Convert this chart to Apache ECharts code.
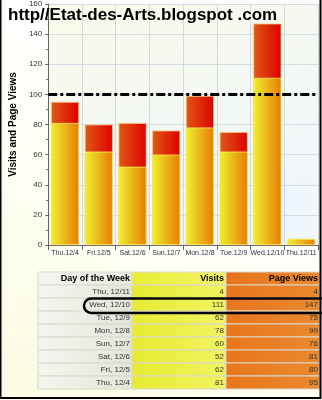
<!DOCTYPE html>
<html><head><meta charset="utf-8">
<script src="https://cdn.jsdelivr.net/npm/echarts@6/dist/echarts.min.js"></script>
<style>html,body{margin:0;padding:0;background:#fff}#c{width:322px;height:400px}</style>
</head><body><div id="c"></div>
<script>
var categories = ['Thu.12/4','Fri.12/5','Sat.12/6','Sun.12/7','Mon.12/8','Tue.12/9','Wed.12/10','Thu.12/11'];
var visits = [81, 62, 52, 60, 78, 62, 111, 4];
var pageViews = [95, 80, 81, 76, 99, 75, 147, 4];
var yTicks = [0, 20, 40, 60, 80, 100, 120, 140, 160];
var refLine = 100;
var tableHeaders = ['Day of the Week', 'Visits', 'Page Views'];
var tableDays = ['Thu, 12/11','Wed, 12/10','Tue, 12/9','Mon, 12/8','Sun, 12/7','Sat, 12/6','Fri, 12/5','Thu, 12/4'];
var tableVisits = visits.slice().reverse();
var tablePageViews = pageViews.slice().reverse();

var cells = [];
tableHeaders.forEach(function (h, c) { cells.push([c, 0, h, 1]); });
tableDays.forEach(function (d, i) {
  cells.push([0, i + 1, d, 0]);
  cells.push([1, i + 1, String(tableVisits[i]), 0]);
  cells.push([2, i + 1, String(tablePageViews[i]), 0]);
});

function lin(a, b) {
  return { type: 'linear', x: 0, y: 0, x2: 1, y2: 0, colorStops: [{ offset: 0, color: a }, { offset: 1, color: b }] };
}
var colFill = [
  [lin('#f6f6f0', '#e4e4da'), lin('#f6f6f0', '#e8e8e0')],
  [lin('#e6ec30', '#f2f462'), lin('#e8ee36', '#f4f46a')],
  [lin('#e8761c', '#ea8a30'), lin('#e6721a', '#ec8c34')]
];

var chart = echarts.init(document.getElementById('c'), null, { renderer: 'canvas' });
chart.setOption({
  animation: false,
  backgroundColor: { type: 'linear', x: 0, y: 1, x2: 0.6, y2: 0.3, colorStops: [{ offset: 0, color: '#fcfce2' }, { offset: 1, color: '#ffffff' }] },
  title: {
    text: 'http//Etat-des-Arts.blogspot .com', left: 3, top: 2,
    textStyle: { fontFamily: 'Liberation Sans, Arial', fontWeight: 'bold', fontSize: 17, color: '#000' }
  },
  grid: [
    { left: 40, top: 4, width: 278, height: 241, show: true, borderWidth: 0,
      backgroundColor: { type: 'linear', x: 0, y: 0, x2: 0.3, y2: 1, colorStops: [{ offset: 0, color: '#fafaea' }, { offset: 1, color: '#f0f7fc' }] } },
    { left: 38, top: 272, width: 282, height: 117 }
  ],
  xAxis: [
    { type: 'category', gridIndex: 0, data: categories,
      axisLine: { show: true, lineStyle: { color: '#666', width: 1 } },
      axisTick: { show: true, lineStyle: { color: '#666' } },
      splitLine: { show: true, lineStyle: { color: '#d4d8d8', width: 1 } },
      axisLabel: { interval: 0, fontSize: 7, color: '#2a3050', margin: 5, fontFamily: 'Liberation Sans, Arial' } },
    { type: 'category', gridIndex: 1, data: [0, 1, 2], show: false }
  ],
  yAxis: [
    { type: 'value', gridIndex: 0, min: 0, max: 160, interval: 20,
      name: 'Visits and Page Views', nameLocation: 'middle', nameGap: 26,
      nameTextStyle: { fontSize: 10, fontWeight: 'bold', color: '#000', fontFamily: 'Liberation Sans, Arial' },
      axisLine: { show: true, lineStyle: { color: '#666' } },
      axisTick: { show: true, length: 3, lineStyle: { color: '#666' } },
      minorTick: { show: true, splitNumber: 2, length: 2, lineStyle: { color: '#666' } },
      splitLine: { show: true, lineStyle: { color: '#d4dde6' } },
      axisLabel: { fontSize: 8, color: '#333', margin: 6, fontFamily: 'Liberation Sans, Arial',
        formatter: function (v) { return yTicks.indexOf(v) >= 0 ? String(v) : ''; } } },
    { type: 'category', gridIndex: 1, data: [0,1,2,3,4,5,6,7,8], inverse: true, show: false }
  ],
  series: [
    { type: 'bar', name: 'Page Views', xAxisIndex: 0, yAxisIndex: 0, data: pageViews,
      barCategoryGap: '17%', barGap: '-100%',
      itemStyle: { color: lin('#dc5a14', '#e00000'), borderColor: '#f6c080', borderWidth: 0.8 },
      markLine: { silent: true, symbol: 'none', label: { show: false },
        lineStyle: { color: '#000', width: 3, type: [9, 3, 3, 3] },
        data: [{ yAxis: refLine }] } },
    { type: 'bar', name: 'Visits', xAxisIndex: 0, yAxisIndex: 0, data: visits,
      barCategoryGap: '17%', barGap: '-100%', z: 3,
      itemStyle: { color: lin('#eef030', '#e87c00'), borderColor: '#f8f060', borderWidth: 0.8 } },
    { type: 'custom', xAxisIndex: 1, yAxisIndex: 1, data: cells,
      renderItem: function (params, api) {
        var c = api.value(0), r = api.value(1);
        var p = api.coord([c, r]);
        var s = api.size([1, 1]);
        var d = cells[params.dataIndex];
        var hdr = d[3] === 1;
        var x = p[0] - s[0] / 2, y = p[1] - s[1] / 2;
        return { type: 'group', children: [
          { type: 'rect', shape: { x: x, y: y, width: s[0], height: s[1] },
            style: { fill: colFill[c][hdr ? 1 : 0], stroke: '#d8d8cc', lineWidth: 1 } },
          { type: 'text', style: { x: x + s[0] - 2, y: p[1], text: d[2], align: 'right', verticalAlign: 'middle',
            fill: hdr ? '#000' : '#333', font: (hdr ? 'bold 9px' : '8px') + ' "Liberation Sans", Arial' } }
        ] };
      } }
  ],
  graphic: [
    { type: 'rect', z: 100, shape: { x: 84, y: 298.5, width: 260, height: 14.5, r: 7.5 },
      style: { fill: null, stroke: '#000', lineWidth: 2.5 } },
    { type: 'rect', z: 100, shape: { x: 0.5, y: -5, width: 320, height: 403 },
      style: { fill: null, stroke: '#000', lineWidth: 2 } }
  ]
});
</script></body></html>
